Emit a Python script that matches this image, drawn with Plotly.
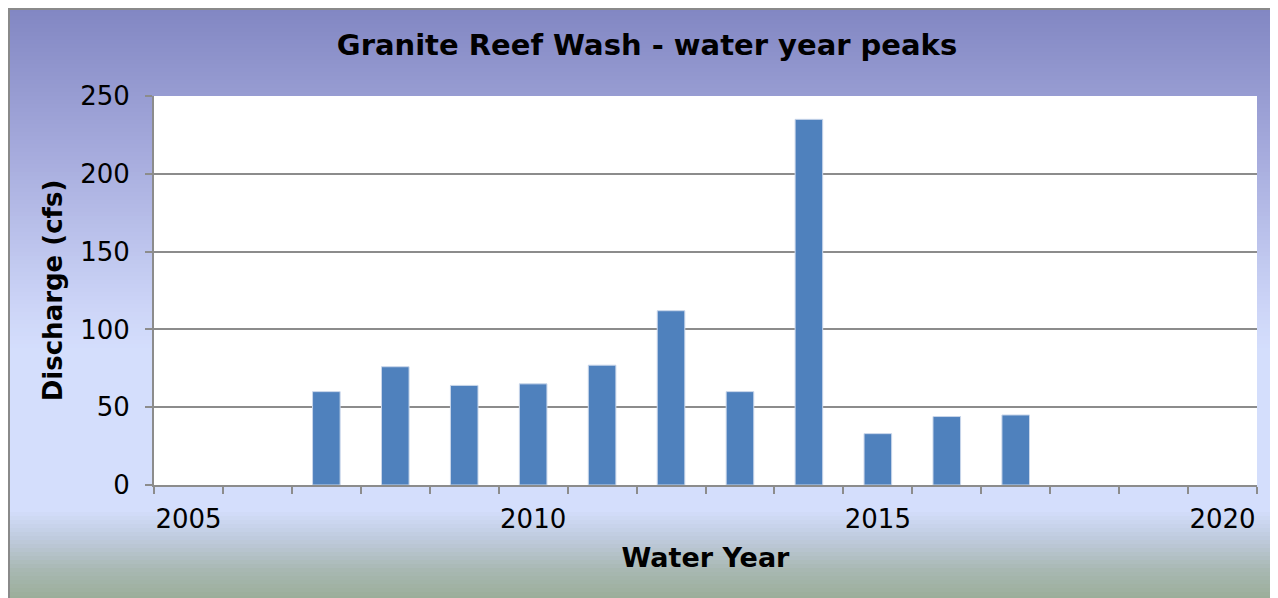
import plotly.graph_objects as go

# Data
years = [2007, 2008, 2009, 2010, 2011, 2012, 2013, 2014, 2015, 2016, 2017]
peaks = [60, 76, 64, 65, 77, 112, 60, 235, 33, 44, 45]
x_tick_vals = [2005, 2010, 2015, 2020]
x_tick_text = ["2005", "2010", "2015", "2020"]
y_tick_vals = [0, 50, 100, 150, 200, 250]

OFF = 8  # page body margin
W, H = 1278, 598
L, T = 154 - OFF, 96 - OFF
R = W - (1257 - OFF)
B = H - (485 - OFF)
PW, PH = W - L - R, H - T - B

def fx(px):  # figure px -> paper x
    return (px - L) / PW

def fy(py):  # figure px -> paper y
    return (H - B - py) / PH

# gradient stops (screen y, rgb)
stops = [
    (0, (128, 132, 193)),
    (150, (165, 170, 220)),
    (300, (203, 211, 246)),
    (350, (212, 222, 252)),
    (510, (212, 222, 252)),
    (540, (190, 202, 220)),
    (570, (168, 184, 178)),
    (598, (155, 174, 154)),
]

def color_at(y):
    for (y0, c0), (y1, c1) in zip(stops[:-1], stops[1:]):
        if y0 <= y <= y1:
            t = (y - y0) / (y1 - y0) if y1 > y0 else 0
            return tuple(round(a + (b - a) * t) for a, b in zip(c0, c1))
    return stops[-1][1]

shapes = []
step = 4
for y in range(0, H, step):
    c = color_at(y + OFF + step / 2)
    shapes.append(dict(
        type="rect", xref="paper", yref="paper", layer="below",
        x0=fx(0), x1=fx(W),
        y0=fy(y + step), y1=fy(y),
        line=dict(width=0), fillcolor=f"rgb{c}",
    ))
shapes.append(dict(type="rect", xref="paper", yref="paper", layer="below",
                   x0=0, x1=1, y0=0, y1=1, line=dict(width=0), fillcolor="white"))
# outer border: left and top edges only (the rest is cut off)
shapes.append(dict(type="line", xref="paper", yref="paper", layer="above",
                   x0=fx(1), x1=fx(1), y0=fy(H), y1=fy(0),
                   line=dict(width=2, color="#8a8a8a")))
shapes.append(dict(type="line", xref="paper", yref="paper", layer="above",
                   x0=fx(0), x1=fx(W), y0=fy(1), y1=fy(1),
                   line=dict(width=2, color="#8a8a8a")))

fig = go.Figure()
fig.add_trace(go.Bar(
    x=years, y=peaks, width=0.4,
    marker=dict(color="#4F81BD", line=dict(color="#C9D6EA", width=1)),
))

font_family = "DejaVu Sans"
fig.update_layout(
    width=W, height=H,
    margin=dict(l=L, r=R, t=T, b=B, autoexpand=False),
    paper_bgcolor="#D4DEFC",
    plot_bgcolor="white",
    shapes=shapes,
    showlegend=False,
    font=dict(family=font_family, size=26, color="black"),
    title=dict(text="<b>Granite Reef Wash - water year peaks</b>",
               x=(647 - OFF) / W, xanchor="center", y=1 - (45 - OFF) / H, yanchor="middle",
               font=dict(family=font_family, size=29, color="black")),
    xaxis=dict(
        range=[2004.5, 2020.5],
        tickmode="array", tickvals=x_tick_vals, ticktext=x_tick_text,
        ticks="", showgrid=False, zeroline=False,
        showline=True, linecolor="#8c8c8c", linewidth=2,
        minor=dict(ticks="outside", tick0=2004.5, dtick=1, ticklen=7,
                   tickcolor="#8c8c8c", tickwidth=2, showgrid=False),
        title=dict(text="<b>Water Year</b>", standoff=15,
                   font=dict(family=font_family, size=27)),
        tickfont=dict(size=26), ticklabelstandoff=10,
    ),
    yaxis=dict(
        range=[0, 250], tickmode="array", tickvals=y_tick_vals,
        ticks="outside", ticklen=7, tickcolor="#8c8c8c", tickwidth=2,
        showgrid=True, gridcolor="#8c8c8c", gridwidth=1.5,
        zeroline=False, showline=True, linecolor="#8c8c8c", linewidth=2,
        title=dict(text="<b>Discharge (cfs)</b>", standoff=10,
                   font=dict(family=font_family, size=26)),
        tickfont=dict(size=26), ticklabelstandoff=10,
    ),
)

fig.write_html("out.html")
